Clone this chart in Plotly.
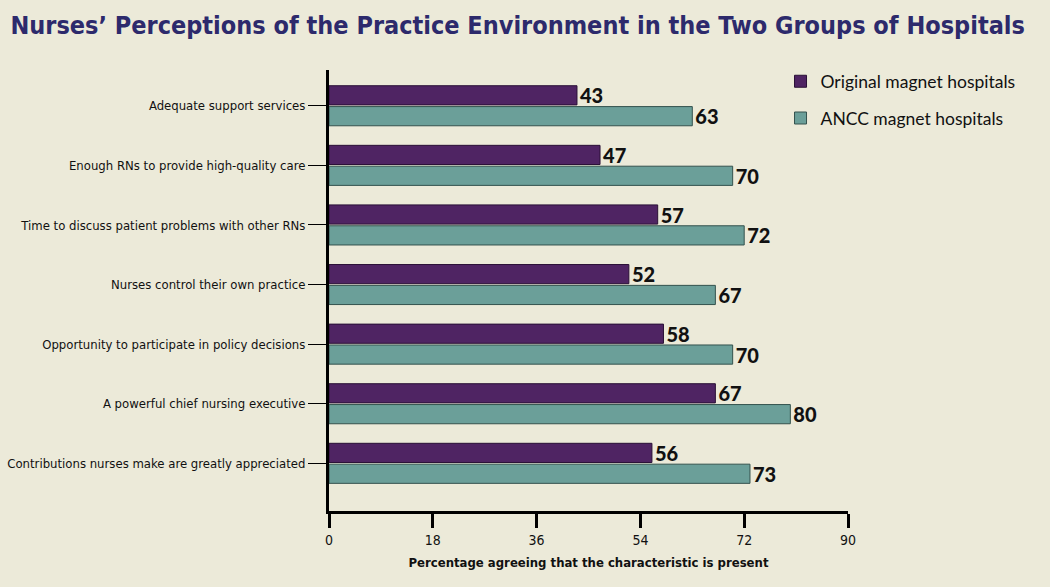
import plotly.graph_objects as go

categories = [
    "Adequate support services",
    "Enough RNs to provide high-quality care",
    "Time to discuss patient problems with other RNs",
    "Nurses control their own practice",
    "Opportunity to participate in policy decisions",
    "A powerful chief nursing executive",
    "Contributions nurses make are greatly appreciated",
]
original_magnet = [43, 47, 57, 52, 58, 67, 56]
ancc_magnet = [63, 70, 72, 67, 70, 80, 73]
x_ticks = [0, 18, 36, 54, 72, 90]

COND = "DejaVu Sans Condensed, Liberation Sans Narrow, sans-serif"
BOLD = "Lato, Open Sans, DejaVu Sans, sans-serif"
BG = "#ecead9"

fig = go.Figure()
fig.add_trace(go.Bar(
    y=categories, x=original_magnet, orientation="h",
    name="Original magnet hospitals", legendgroup="a",
    marker=dict(color="#4f2463", line=dict(color="#2a1036", width=1)),
    text=[str(v) for v in original_magnet], textposition="outside",
    textfont=dict(family=BOLD, size=20, color="#111111", weight=900),
    constraintext="none", cliponaxis=False,
))
fig.add_trace(go.Bar(
    y=categories, x=ancc_magnet, orientation="h",
    name="ANCC magnet hospitals", legendgroup="b",
    marker=dict(color="#6b9f99", line=dict(color="#34524e", width=1)),
    text=[str(v) for v in ancc_magnet], textposition="outside",
    textfont=dict(family=BOLD, size=20, color="#111111", weight=900),
    constraintext="none", cliponaxis=False,
))

fig.update_layout(
    width=1050, height=587,
    margin=dict(l=329, r=202, t=70, b=76),
    paper_bgcolor=BG, plot_bgcolor=BG,
    barmode="group", bargap=0.3, bargroupgap=0.08,
    title=dict(
        text="<b>Nurses’ Perceptions of the Practice Environment in the Two Groups of Hospitals</b>",
        x=0.01, xanchor="left", y=0.957, yanchor="middle",
        font=dict(family=COND, size=25, color="#2d2a6c"),
    ),
    legend=dict(
        x=0.87, xanchor="left", y=1.015, yanchor="top",
        font=dict(family=BOLD, size=17.5, color="#111111"),
        bgcolor="rgba(0,0,0,0)", traceorder="grouped", tracegroupgap=11,
    ),
    showlegend=True,
    xaxis=dict(
        range=[0, 90], tickvals=x_ticks, ticktext=[str(t) for t in x_ticks],
        showgrid=False, zeroline=False,
        showline=True, linecolor="#000000", linewidth=3,
        ticks="outside", ticklen=14, tickwidth=3, tickcolor="#000000",
        tickfont=dict(family=COND, size=14, color="#111111"),
        title=dict(text="<b>Percentage agreeing that the characteristic is present</b>",
                   font=dict(family=COND, size=13, color="#111111"), standoff=12),
        fixedrange=True, automargin=False,
    ),
    yaxis=dict(
        type="category", categoryorder="array", categoryarray=categories,
        range=[6.8, -0.6],
        showgrid=False, zeroline=False,
        showline=True, linecolor="#000000", linewidth=3,
        ticks="outside", ticklen=18, tickwidth=1, tickcolor="#000000",
        tickfont=dict(family=COND, size=13, color="#111111"),
        fixedrange=True, automargin=False,
    ),
)

fig.write_html(
    "out.html",
    config={"displayModeBar": False},
    post_script="document.body.style.margin='0';document.body.style.overflow='hidden';",
)
